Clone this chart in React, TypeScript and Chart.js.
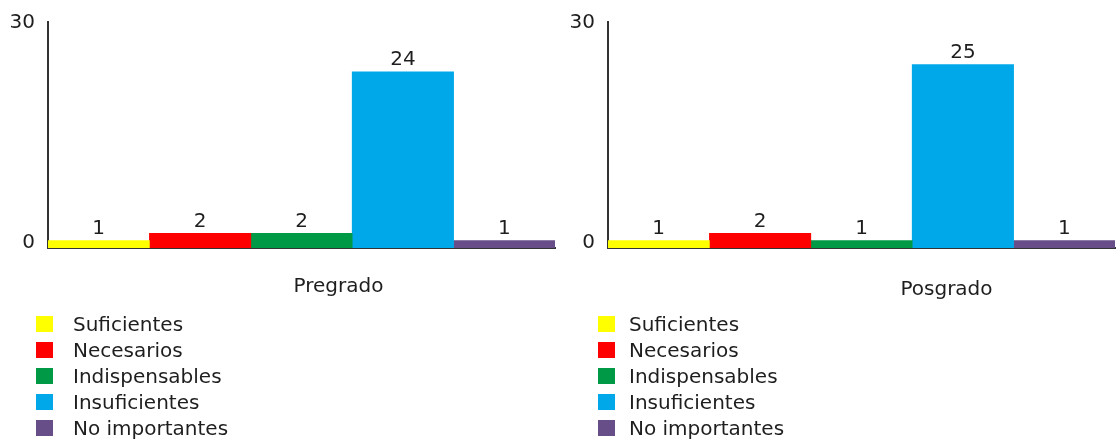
import React, { useEffect, useRef } from "react";
import { Chart, registerables } from "chart.js";

Chart.register(...registerables);

const categories = ["Suficientes", "Necesarios", "Indispensables", "Insuficientes", "No importantes"];
const barColors = ["#ffff00", "#ff0000", "#009a46", "#00a8ea", "#674e88"];
const pregradoValues = [1, 2, 2, 24, 1];
const posgradoValues = [1, 2, 1, 25, 1];
const yTickValues = [0, 30];
const yMax = 30.8;

const FONT = "'DejaVu Sans', Verdana, sans-serif";
const TEXT = "#1e1e1e";

const valueLabels = {
  id: "valueLabels",
  afterDatasetsDraw(chart: any) {
    const ctx = chart.ctx;
    ctx.save();
    ctx.font = `20px ${FONT}`;
    ctx.fillStyle = TEXT;
    ctx.textAlign = "center";
    ctx.textBaseline = "bottom";
    chart.data.datasets.forEach((ds: any, i: number) => {
      const meta = chart.getDatasetMeta(i);
      meta.data.forEach((bar: any, j: number) => {
        ctx.fillText(String(ds.data[j]), bar.x, bar.y - 2);
      });
    });
    ctx.restore();
  },
};

function BarPanel(props: { title: string; values: number[]; titleOffset: number; titlePad: number }) {
  const ref = useRef<HTMLCanvasElement | null>(null);
  useEffect(() => {
    if (!ref.current) return;
    const chart = new Chart(ref.current, {
      type: "bar",
      data: {
        labels: [props.title],
        datasets: categories.map((c, i) => ({
          label: c,
          data: [props.values[i]],
          backgroundColor: barColors[i],
          borderWidth: 0,
          categoryPercentage: 1,
          barPercentage: 1,
        })),
      },
      options: {
        responsive: false,
        animation: false,
        layout: { padding: { top: 22, right: 5, left: 0, bottom: 0 } },
        plugins: { legend: { display: false }, tooltip: { enabled: false } },
        scales: {
          x: {
            grid: { display: false },
            border: { display: true, color: "#333", width: 2 },
            ticks: {
              font: { family: FONT, size: 20 },
              color: TEXT,
              maxRotation: 0,
              labelOffset: props.titleOffset,
              padding: props.titlePad,
            },
            afterFit(scale: any) {
              scale.height = 72;
            },
          },
          y: {
            min: 0,
            max: yMax,
            grid: { display: false },
            border: { display: true, color: "#333", width: 2 },
            ticks: {
              font: { family: FONT, size: 20 },
              color: TEXT,
              padding: 5,
              labelOffset: -5.5,
            },
            afterBuildTicks(scale: any) {
              scale.ticks = yTickValues.map((v) => ({ value: v }));
            },
            afterFit(scale: any) {
              scale.width = 48;
            },
          },
        },
      },
      plugins: [valueLabels],
    });
    return () => chart.destroy();
  }, []);
  return <canvas ref={ref} width={560} height={320} />;
}

function Legend(props: { left: number; textGap: number }) {
  return (
    <div style={{ position: "absolute", left: props.left, top: 311, fontFamily: FONT, fontSize: 20, color: TEXT }}>
      {categories.map((c, i) => (
        <div key={c} style={{ display: "flex", alignItems: "center", height: 26 }}>
          <div style={{ width: 17, height: 16, background: barColors[i], marginRight: props.textGap }} />
          <span style={{ lineHeight: "26px" }}>{c}</span>
        </div>
      ))}
    </div>
  );
}

export default function App() {
  return (
    <div style={{ position: "absolute", left: 0, top: 0, width: 1120, height: 439, background: "#fff", overflow: "hidden" }}>
      <div style={{ position: "absolute", left: 0, top: 0 }}>
        <BarPanel title="Pregrado" values={pregradoValues} titleOffset={37} titlePad={19} />
      </div>
      <div style={{ position: "absolute", left: 560, top: 0 }}>
        <BarPanel title="Posgrado" values={posgradoValues} titleOffset={85} titlePad={22} />
      </div>
      <Legend left={36} textGap={20} />
      <Legend left={598} textGap={14} />
    </div>
  );
}
